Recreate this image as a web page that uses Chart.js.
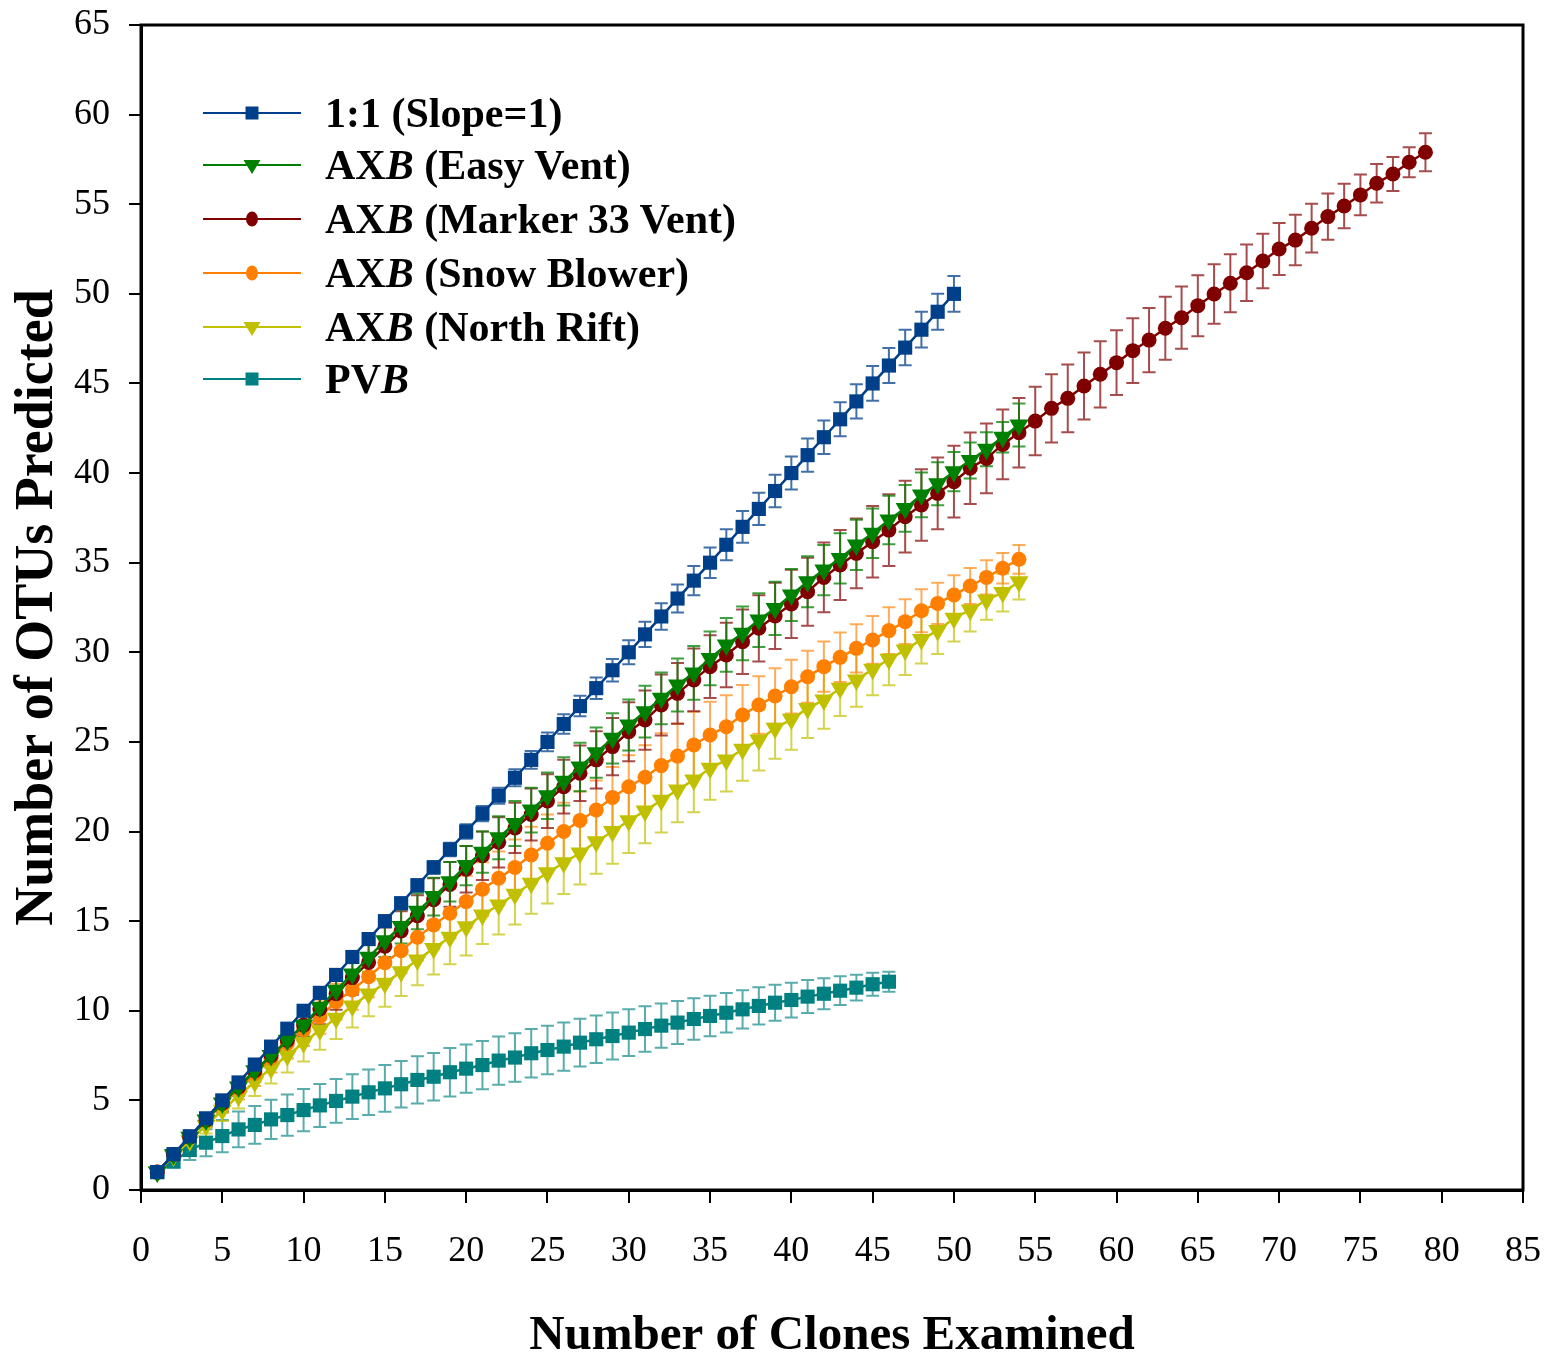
<!DOCTYPE html>
<html><head><meta charset="utf-8">
<script src="https://cdn.jsdelivr.net/npm/chart.js@4.4.1/dist/chart.umd.min.js"></script>
<style>
html,body{margin:0;padding:0;background:#fff;}
#wrap{position:relative;width:1550px;height:1366px;}
#c{position:absolute;left:0;top:0;}
.row{position:absolute;left:203px;height:50px;display:flex;align-items:center;font:bold 42px 'Liberation Serif','Times New Roman',serif;color:#000;white-space:nowrap;}
.row svg{margin-right:24px;flex:none;}
.row i{font-style:italic;}
</style></head><body>
<div id="wrap"><canvas id="c" width="1550" height="1366"></canvas><div id="legend"></div></div>
<script>
const clones = [1,2,3,4,5,6,7,8,9,10,11,12,13,14,15,16,17,18,19,20,21,22,23,24,25,26,27,28,29,30,31,32,33,34,35,36,37,38,39,40,41,42,43,44,45,46,47,48,49,50,51,52,53,54,55,56,57,58,59,60,61,62,63,64,65,66,67,68,69,70,71,72,73,74,75,76,77,78,79];

const xTicks = [0,5,10,15,20,25,30,35,40,45,50,55,60,65,70,75,80,85];
const yTicks = [0,5,10,15,20,25,30,35,40,45,50,55,60,65];

const seriesNames = ['1:1 (Slope=1)', 'AXB (Easy Vent)', 'AXB (Marker 33 Vent)', 'AXB (Snow Blower)', 'AXB (North Rift)', 'PVB'];

const oneToOne = [1,2,3,4,5,6,7,8,9,10,11,12,13,14,15,16,17,18,19,20,21,22,23,24,25,26,27,28,29,30,31,32,33,34,35,36,37,38,39,40,41,42,43,44,45,46,47,48,49,50];
const oneToOneErr = [0,0.05,0.08,0.1,0.12,0.14,0.16,0.18,0.19,0.2,0.22,0.24,0.26,0.28,0.3,0.32,0.34,0.36,0.38,0.4,0.42,0.45,0.47,0.5,0.52,0.55,0.57,0.6,0.63,0.67,0.7,0.74,0.78,0.82,0.85,0.87,0.89,0.9,0.91,0.92,0.93,0.94,0.95,0.96,0.97,0.98,0.99,1.0,1.0,1.0];

const easyVent = [1,1.98,2.95,3.9,4.85,5.75,6.65,7.5,8.35,9.21,10.2,11.15,12.05,12.98,13.9,14.7,15.55,16.37,17.2,18.1,18.85,19.65,20.45,21.2,22.0,22.8,23.6,24.4,25.2,25.94,26.69,27.43,28.18,28.85,29.66,30.41,31.06,31.8,32.45,33.2,33.94,34.59,35.24,35.99,36.64,37.38,38.03,38.78,39.4,40.08,40.7,41.33,42.0,42.68];
const easyVentErr = [0,0.1,0.2,0.3,0.35,0.45,0.5,0.55,0.6,0.65,0.7,0.75,0.8,0.85,0.9,0.95,1.0,1.05,1.1,1.1,1.15,1.2,1.25,1.25,1.3,1.35,1.35,1.4,1.4,1.42,1.45,1.45,1.48,1.5,1.5,1.5,1.5,1.5,1.48,1.45,1.42,1.4,1.4,1.4,1.38,1.35,1.3,1.25,1.2,1.1,1.0,0.95,0.85,1.2];

const marker33 = [1,1.98,2.95,3.9,4.85,5.75,6.65,7.5,8.35,9.2,10.1,10.95,11.85,12.7,13.6,14.45,15.3,16.2,17.05,17.9,18.65,19.4,20.2,20.95,21.7,22.5,23.25,24.0,24.74,25.57,26.22,27.06,27.71,28.46,29.2,29.85,30.59,31.34,32.03,32.7,33.38,34.18,34.87,35.52,36.17,36.82,37.57,38.22,38.87,39.52,40.27,40.82,41.6,42.25,42.9,43.61,44.17,44.86,45.51,46.16,46.83,47.42,48.08,48.67,49.34,49.99,50.59,51.18,51.83,52.5,53.0,53.66,54.31,54.9,55.52,56.17,56.69,57.34,57.9];
const marker33Err = [0,0.15,0.25,0.35,0.45,0.5,0.6,0.65,0.7,0.8,0.85,0.9,0.95,1.0,1.05,1.1,1.15,1.2,1.25,1.3,1.35,1.4,1.4,1.45,1.5,1.5,1.55,1.6,1.6,1.65,1.65,1.7,1.7,1.75,1.75,1.8,1.8,1.85,1.85,1.9,1.9,1.95,1.95,1.95,2.0,2.0,2.0,2.0,2.0,2.0,2.0,1.95,1.95,1.94,1.91,1.91,1.89,1.87,1.85,1.81,1.81,1.79,1.76,1.74,1.7,1.66,1.62,1.58,1.52,1.45,1.41,1.36,1.29,1.24,1.14,1.07,0.95,0.84,1.06];

const snowBlower = [1,1.98,2.95,3.9,4.8,5.65,6.5,7.35,8.18,8.93,9.67,10.51,11.16,11.9,12.68,13.35,14.1,14.79,15.44,16.09,16.78,17.39,18.0,18.69,19.35,20.0,20.62,21.2,21.9,22.5,23.03,23.68,24.21,24.83,25.39,25.85,26.5,27.06,27.56,28.08,28.64,29.2,29.72,30.22,30.69,31.21,31.71,32.32,32.73,33.2,33.7,34.18,34.69,35.19];
const snowBlowerErr = [0,0.15,0.3,0.4,0.5,0.6,0.7,0.8,0.85,0.9,0.95,1.0,1.1,1.15,1.2,1.25,1.3,1.35,1.4,1.45,1.5,1.5,1.55,1.58,1.6,1.6,1.62,1.65,1.7,1.75,1.78,1.8,1.82,1.85,1.85,1.75,1.68,1.6,1.55,1.5,1.45,1.4,1.38,1.35,1.33,1.3,1.25,1.2,1.15,1.1,1.0,0.95,0.85,0.8];

const northRift = [1,1.9,2.75,3.6,4.45,5.25,6.04,6.79,7.5,8.22,8.93,9.58,10.27,10.94,11.53,12.18,12.83,13.48,14.1,14.69,15.34,15.9,16.5,17.11,17.7,18.26,18.8,19.43,20.0,20.6,21.15,21.75,22.32,22.88,23.53,23.99,24.59,25.11,25.76,26.26,26.87,27.34,27.99,28.46,29.05,29.61,30.13,30.72,31.21,31.9,32.36,32.92,33.33,33.94];
const northRiftErr = [0,0.2,0.35,0.45,0.6,0.7,0.8,0.85,0.95,1.05,1.1,1.15,1.2,1.25,1.3,1.35,1.4,1.45,1.5,1.6,1.62,1.65,1.68,1.7,1.72,1.75,1.75,1.78,1.8,1.8,1.8,1.8,1.8,1.8,1.75,1.75,1.75,1.7,1.7,1.7,1.65,1.6,1.55,1.5,1.45,1.45,1.4,1.35,1.3,1.3,1.2,1.1,1.05,1.0];

const pvb = [1.0,1.58,2.23,2.64,3.01,3.38,3.63,3.94,4.18,4.46,4.72,4.97,5.21,5.45,5.67,5.9,6.14,6.32,6.57,6.77,6.97,7.22,7.39,7.63,7.81,8.0,8.22,8.41,8.59,8.78,8.98,9.17,9.34,9.54,9.71,9.89,10.08,10.27,10.45,10.6,10.79,10.95,11.12,11.29,11.48,11.62];
const pvbErr = [0,0.3,0.55,0.75,0.9,1.0,1.05,1.1,1.15,1.18,1.2,1.22,1.25,1.27,1.3,1.3,1.32,1.33,1.35,1.35,1.35,1.35,1.35,1.35,1.35,1.35,1.33,1.32,1.31,1.3,1.27,1.23,1.2,1.16,1.13,1.1,1.07,1.04,1.0,0.97,0.92,0.86,0.8,0.72,0.64,0.56];

const colors = ['#00408A','#008000','#800000','#FF8000','#C0C000','#008080'];
const errColors = ['rgba(0,64,138,0.75)','rgba(0,128,0,0.75)','rgba(128,0,0,0.7)','rgba(255,128,0,0.65)','rgba(192,192,0,0.7)','rgba(0,128,128,0.65)'];
const pointStyles = ['rect','triangle','circle','circle','triangle','rect'];
const pointRots = [0,180,0,0,180,0];
const pointRadii = [10,11,7.5,7.5,11,10];

const values = [oneToOne, easyVent, marker33, snowBlower, northRift, pvb];
const errors = [oneToOneErr, easyVentErr, marker33Err, snowBlowerErr, northRiftErr, pvbErr];

const datasets = values.map((vals, i) => ({
  label: seriesNames[i],
  data: vals.map((v, j) => ({x: clones[j], y: v})),
  errors: errors[i],
  errorColor: errColors[i],
  borderColor: colors[i],
  backgroundColor: colors[i],
  borderWidth: 2.5,
  pointStyle: pointStyles[i],
  pointRotation: pointRots[i],
  pointRadius: pointRadii[i],
  pointHoverRadius: pointRadii[i],
  pointBorderWidth: 0,
  pointBackgroundColor: colors[i],
  tension: 0,
  fill: false
}));

const errorBars = {
  id: 'errorBars',
  beforeDatasetsDraw(chart) {
    const {ctx, scales: {x, y}} = chart;
    ctx.save();
    ctx.lineWidth = 2;
    for (let i = chart.data.datasets.length - 1; i >= 0; i--) {
      const ds = chart.data.datasets[i];
      ctx.strokeStyle = ds.errorColor;
      ds.data.forEach((p, j) => {
        const e = ds.errors[j];
        if (!e) return;
        const px = x.getPixelForValue(p.x);
        const yt = y.getPixelForValue(p.y + e);
        const yb = y.getPixelForValue(p.y - e);
        ctx.beginPath();
        ctx.moveTo(px, yt); ctx.lineTo(px, yb);
        ctx.moveTo(px - 6.5, yt); ctx.lineTo(px + 6.5, yt);
        ctx.moveTo(px - 6.5, yb); ctx.lineTo(px + 6.5, yb);
        ctx.stroke();
      });
    }
    ctx.restore();
  }
};

const frame = {
  id: 'frame',
  afterDraw(chart) {
    const {ctx, chartArea: a} = chart;
    ctx.save();
    ctx.strokeStyle = '#000';
    ctx.lineWidth = 3;
    ctx.strokeRect(a.left, a.top, a.right - a.left, a.bottom - a.top);
    ctx.restore();
  }
};

const tickFont = {family: "'Liberation Serif','Times New Roman',serif", size: 36};

new Chart(document.getElementById('c'), {
  type: 'line',
  data: {datasets},
  options: {
    responsive: false,
    animation: false,
    events: [],
    layout: {padding: {left: 0, right: 27, top: 25, bottom: 0}},
    plugins: {legend: {display: false}, tooltip: {enabled: false}},
    scales: {
      x: {
        type: 'linear', min: 0, max: 85,
        afterBuildTicks: s => { s.ticks = xTicks.map(v => ({value: v})); },
        afterFit: s => { s.height = 176; s.paddingLeft = 0; s.paddingRight = 0; },
        ticks: {font: tickFont, color: '#000', padding: 27, maxRotation: 0, autoSkip: false},
        grid: {display: true, drawOnChartArea: false, drawTicks: true, tickLength: 13, color: '#000', lineWidth: 2},
        border: {display: true, color: '#000', width: 3},
        title: {display: true, text: 'Number of Clones Examined', color: '#000', padding: {top: 0, bottom: 0},
          font: {family: "'Liberation Serif','Times New Roman',serif", size: 49, weight: 'bold'}}
      },
      y: {
        type: 'linear', min: 0, max: 65,
        afterBuildTicks: s => { s.ticks = yTicks.map(v => ({value: v})); },
        afterFit: s => { s.width = 141; s.paddingTop = 0; s.paddingBottom = 0; },
        ticks: {font: tickFont, color: '#000', padding: 19, autoSkip: false},
        grid: {display: true, drawOnChartArea: false, drawTicks: true, tickLength: 12, color: '#000', lineWidth: 2},
        border: {display: true, color: '#000', width: 3},
        title: {display: true, text: 'Number of OTUs Predicted', color: '#000', padding: {top: 6, bottom: 0},
          font: {family: "'Liberation Serif','Times New Roman',serif", size: 54, weight: 'bold'}}
      }
    }
  },
  plugins: [errorBars, frame]
});

// HTML legend
const legendRowsY = [113, 165, 219, 273, 327, 379];
const legendHTML = ['1:1 (Slope=1)', 'AX<i>B</i> (Easy Vent)', 'AX<i>B</i> (Marker 33 Vent)', 'AX<i>B</i> (Snow Blower)', 'AX<i>B</i> (North Rift)', 'PV<i>B</i>'];
function markerSVG(i) {
  const c = colors[i];
  let m = '';
  if (pointStyles[i] === 'rect') m = `<rect x="42.5" y="8.5" width="13" height="13" fill="${c}"/>`;
  else if (pointStyles[i] === 'circle') m = `<ellipse cx="49" cy="15" rx="6" ry="7.5" fill="${c}"/>`;
  else m = `<polygon points="40.5,10 57.5,10 49,24" fill="${c}"/>`;
  return `<svg width="98" height="30" viewBox="0 0 98 30"><line x1="0" y1="15" x2="98" y2="15" stroke="${c}" stroke-width="2"/>${m}</svg>`;
}
const lg = document.getElementById('legend');
legendHTML.forEach((t, i) => {
  const d = document.createElement('div');
  d.className = 'row';
  d.style.top = (legendRowsY[i] - 25) + 'px';
  d.innerHTML = markerSVG(i) + '<span>' + t + '</span>';
  lg.appendChild(d);
});
</script>
</body></html>
